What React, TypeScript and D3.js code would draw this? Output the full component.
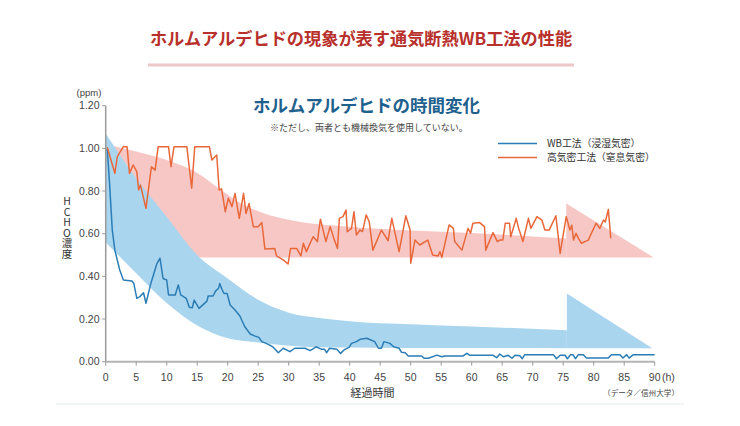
import React from "react";
import * as d3 from "d3";

const xTicks = [0, 5, 10, 15, 20, 25, 30, 35, 40, 45, 50, 55, 60, 65, 70, 75, 80, 85, 90];
const yTicks = [0, 0.2, 0.4, 0.6, 0.8, 1.0, 1.2];

// WB工法 measured line
const wbHours = [0.25, 0.6, 1.08, 1.5, 2.3, 2.9, 4.3, 4.6, 5.1, 5.6, 6.2, 6.6, 7.0, 7.4, 8.4, 8.9, 9.4, 10.0, 10.3, 11.4, 11.9, 12.3, 13.2, 13.7, 14.2, 14.5, 15.3, 16.6, 16.8, 17.6, 18.0, 18.5, 18.7, 19.1, 19.4, 19.9, 20.4, 21.2, 22.0, 22.8, 23.7, 24.5, 25.1, 25.6, 26.3, 26.9, 27.5, 28.3, 29.1, 30.2, 31.0, 32.7, 33.5, 34.5, 35.4, 35.9, 36.2, 36.7, 37.9, 38.5, 39.2, 39.9, 40.3, 41.1, 41.7, 42.8, 44.1, 44.7, 45.2, 45.6, 46.6, 47.2, 48.1, 48.5, 49.1, 49.6, 51.8, 52.2, 52.9, 54.3, 55.1, 55.6, 58.6, 59.2, 59.7, 63.5, 64.1, 64.6, 65.2, 66.0, 66.6, 67.1, 67.9, 68.3, 68.7, 73.4, 73.9, 74.5, 75.3, 75.7, 76.2, 76.6, 77.0, 77.5, 78.3, 78.8, 82.4, 82.9, 84.3, 84.8, 85.4, 85.8, 86.5, 90];
const wbPpm = [1.0, 0.85, 0.617, 0.523, 0.43, 0.383, 0.378, 0.368, 0.297, 0.305, 0.323, 0.274, 0.32, 0.367, 0.46, 0.485, 0.39, 0.383, 0.313, 0.313, 0.36, 0.313, 0.297, 0.255, 0.253, 0.289, 0.25, 0.284, 0.308, 0.308, 0.331, 0.344, 0.367, 0.336, 0.32, 0.32, 0.266, 0.242, 0.214, 0.164, 0.13, 0.12, 0.114, 0.094, 0.086, 0.078, 0.067, 0.042, 0.063, 0.047, 0.063, 0.063, 0.052, 0.07, 0.058, 0.058, 0.042, 0.063, 0.058, 0.039, 0.058, 0.067, 0.086, 0.094, 0.105, 0.11, 0.094, 0.063, 0.063, 0.094, 0.086, 0.07, 0.063, 0.044, 0.042, 0.027, 0.027, 0.016, 0.016, 0.031, 0.023, 0.027, 0.027, 0.039, 0.03, 0.03, 0.019, 0.036, 0.023, 0.03, 0.016, 0.03, 0.028, 0.014, 0.033, 0.033, 0.014, 0.03, 0.03, 0.014, 0.033, 0.033, 0.014, 0.033, 0.033, 0.017, 0.017, 0.033, 0.033, 0.017, 0.033, 0.017, 0.033, 0.033];

// 高気密工法 measured line
const hkHours = [0.25, 1.5, 1.9, 2.9, 3.5, 3.9, 4.5, 5.1, 5.4, 5.7, 6.6, 7.1, 7.5, 8.1, 8.6, 10.3, 10.7, 11.2, 13.3, 14.1, 14.6, 17.0, 17.4, 18.2, 18.6, 19.0, 19.6, 20.1, 20.7, 21.2, 21.9, 22.6, 23.0, 23.5, 24.2, 25.0, 25.6, 26.1, 27.7, 28.0, 29.1, 29.9, 30.3, 31.3, 32.0, 32.4, 32.9, 34.0, 34.7, 35.2, 36.1, 36.8, 37.4, 38.0, 38.3, 38.9, 39.4, 39.6, 40.3, 40.7, 41.1, 41.7, 42.1, 42.7, 43.2, 43.8, 45.2, 46.3, 46.9, 48.1, 49.2, 49.9, 50.0, 50.7, 51.5, 52.8, 53.6, 54.5, 54.8, 55.1, 56.3, 57.0, 57.2, 58.4, 59.4, 59.8, 60.2, 61.3, 62.1, 62.3, 63.5, 64.2, 64.6, 65.1, 65.5, 66.2, 66.4, 67.3, 67.7, 68.4, 69.3, 69.7, 70.7, 71.5, 72.0, 72.7, 73.8, 74.5, 75.5, 76.1, 76.4, 76.7, 77.1, 77.5, 78.0, 79.1, 80.4, 81.0, 81.6, 81.9, 82.4, 82.8];
const hkPpm = [1.005, 0.883, 0.961, 1.008, 1.008, 0.883, 0.922, 0.891, 0.805, 0.828, 0.719, 0.828, 0.914, 0.898, 1.008, 1.008, 0.914, 1.008, 1.008, 0.813, 1.008, 1.008, 0.945, 0.969, 0.805, 0.81, 0.703, 0.766, 0.727, 0.789, 0.672, 0.789, 0.695, 0.742, 0.633, 0.633, 0.652, 0.528, 0.531, 0.496, 0.477, 0.458, 0.531, 0.531, 0.496, 0.555, 0.516, 0.586, 0.563, 0.668, 0.563, 0.633, 0.578, 0.531, 0.672, 0.68, 0.711, 0.609, 0.625, 0.703, 0.594, 0.617, 0.61, 0.688, 0.656, 0.523, 0.617, 0.567, 0.672, 0.516, 0.684, 0.617, 0.461, 0.57, 0.547, 0.57, 0.5, 0.496, 0.516, 0.489, 0.641, 0.625, 0.563, 0.523, 0.625, 0.602, 0.649, 0.652, 0.633, 0.523, 0.605, 0.563, 0.57, 0.57, 0.649, 0.649, 0.586, 0.672, 0.625, 0.563, 0.672, 0.625, 0.68, 0.664, 0.617, 0.617, 0.684, 0.508, 0.68, 0.617, 0.64, 0.57, 0.602, 0.578, 0.555, 0.57, 0.649, 0.625, 0.664, 0.655, 0.714, 0.578];

// blue trend band (WB)
const blueBandHours = [0, 5, 10, 15, 20, 25, 30, 35, 40, 50, 60, 75.6];
const blueBandUpper = [1.07, 0.86, 0.68, 0.5, 0.39, 0.29, 0.23, 0.205, 0.19, 0.175, 0.165, 0.148];
const blueBandLower = [0.56, 0.415, 0.275, 0.17, 0.11, 0.09, 0.075, 0.068, 0.066, 0.064, 0.064, 0.063];
const blueArrowHead = [[75.6, 0.063], [75.6, 0.32], [89.6, 0.063]];

// pink trend band (高気密)
const pinkBandHours = [0.7, 5, 10, 15, 18.7, 22, 26, 30, 40, 50, 60, 75.5];
const pinkBandUpper = [1.015, 0.985, 0.945, 0.885, 0.81, 0.745, 0.695, 0.665, 0.632, 0.615, 0.603, 0.578];
const pinkBandLower = [0.8, 0.55, 0.489, 0.489, 0.489, 0.489, 0.489, 0.489, 0.489, 0.489, 0.489, 0.489];
const pinkArrowHead = [[75.5, 0.489], [75.5, 0.742], [89.8, 0.489]];

const legendLabels = ["WB工法（浸湿気密）", "高気密工法（窒息気密）"];
const yTitle = "HCHO濃度";

const FONT = "'Liberation Sans', 'Noto Sans CJK JP', sans-serif";
const JP = "'Noto Sans CJK JP', sans-serif";

export default function App() {
  const x = d3.scaleLinear().domain([0, 90]).range([105.7, 654.7]);
  const y = d3.scaleLinear().domain([0, 1.2]).range([361.7, 105.7]);

  const area = (hours: number[], up: number[], lo: number[]) =>
    d3
      .area<number>()
      .x((_, i) => x(hours[i]))
      .y0((_, i) => y(lo[i]))
      .y1((_, i) => y(up[i]))
      .curve(d3.curveMonotoneX)(hours.map((_, i) => i)) || "";

  const poly = (pts: number[][]) =>
    "M" + pts.map((p) => `${x(p[0])},${y(p[1])}`).join("L") + "Z";

  const line = (hours: number[], vals: number[]) =>
    d3
      .line<number>()
      .x((_, i) => x(hours[i]))
      .y((_, i) => y(vals[i]))(hours.map((_, i) => i)) || "";

  const blueColor = "#2b7db6";
  const orangeColor = "#e8683a";
  const blueFill = "#aad5ee";
  const pinkFill = "#f7c7c5";
  const axisColor = "#9a9a9a";

  return (
    <svg width={740} height={426} style={{ position: "absolute", left: 0, top: 0 }}>
      <rect x={0} y={0} width={740} height={426} fill="#ffffff" />
      <text x={361} y={45} textAnchor="middle" fontFamily={JP} fontWeight={700} fontSize={17.2} fill="#b8302c">
        ホルムアルデヒドの現象が表す通気断熱WB工法の性能
      </text>
      <rect x={148} y={63.5} width={426} height={3} fill="#ecc8c8" />

      <rect x={56} y={403} width={628} height={2} fill="#f3f6f6" />

      {/* bands */}
      <path d={area(pinkBandHours, pinkBandUpper, pinkBandLower)} fill={pinkFill} />
      <path d={poly(pinkArrowHead)} fill={pinkFill} />
      <path d={area(blueBandHours, blueBandUpper, blueBandLower)} fill={blueFill} />
      <path d={poly(blueArrowHead)} fill={blueFill} />

      {/* axes */}
      <line x1={x(0)} x2={x(0)} y1={y(1.2)} y2={y(0)} stroke={axisColor} strokeWidth={1.5} />
      <line x1={x(0)} x2={x(90)} y1={y(0)} y2={y(0)} stroke="#b4b4b4" strokeWidth={2} />
      {yTicks.map((t) => (
        <g key={"y" + t}>
          <line x1={x(0) - 3.5} x2={x(0)} y1={y(t)} y2={y(t)} stroke={axisColor} strokeWidth={1} />
          <text x={99.5} y={y(t)} dy="0.35em" textAnchor="end" fontFamily={FONT} fontSize={10.5} fill="#444">
            {t.toFixed(2)}
          </text>
        </g>
      ))}
      {xTicks.map((t) => (
        <g key={"x" + t}>
          <line x1={x(t)} x2={x(t)} y1={y(0)} y2={y(0) + 4} stroke={axisColor} strokeWidth={1} />
          <text x={x(t)} y={377} dy="0.35em" textAnchor="middle" fontFamily={FONT} fontSize={10.5} fill="#444">
            {t}
          </text>
        </g>
      ))}
      <text x={662} y={377} dy="0.35em" fontFamily={FONT} fontSize={10.5} fill="#444">(h)</text>
      <text x={89} y={93} dy="0.35em" textAnchor="middle" fontFamily={FONT} fontSize={9.5} fill="#444">(ppm)</text>
      <text
        x={67}
        y={196}
        fontFamily={JP}
        fontSize={10.5}
        fill="#333"
        style={{ writingMode: "vertical-rl", textOrientation: "upright" } as any}
      >
        {yTitle}
      </text>
      <text x={372.5} y={393.5} dy="0.35em" textAnchor="middle" fontFamily={JP} fontSize={11} fill="#333">経過時間</text>
      <text x={679} y={393.5} dy="0.35em" textAnchor="end" fontFamily={JP} fontSize={7.6} fill="#444">（データ／信州大学）</text>

      {/* data lines */}
      <path d={line(wbHours, wbPpm)} fill="none" stroke={blueColor} strokeWidth={1.5} strokeLinejoin="round" />
      <path d={line(hkHours, hkPpm)} fill="none" stroke={orangeColor} strokeWidth={1.5} strokeLinejoin="round" />

      {/* chart title */}
      <text x={253} y={112} fontFamily={JP} fontWeight={700} fontSize={17.5} fill="#1f618e">
        ホルムアルデヒドの時間変化
      </text>
      <text x={270} y={131} fontFamily={JP} fontSize={9} fill="#444">
        ※ただし、両者とも機械換気を使用していない。
      </text>

      {/* legend */}
      <line x1={498} x2={537} y1={143.5} y2={143.5} stroke={blueColor} strokeWidth={1.5} />
      <text x={547} y={143.5} dy="0.35em" fontFamily={JP} fontSize={9.8} fill="#333">{legendLabels[0]}</text>
      <line x1={498} x2={537} y1={157.5} y2={157.5} stroke={orangeColor} strokeWidth={1.5} />
      <text x={547} y={157.5} dy="0.35em" fontFamily={JP} fontSize={9.8} fill="#333">{legendLabels[1]}</text>
    </svg>
  );
}
